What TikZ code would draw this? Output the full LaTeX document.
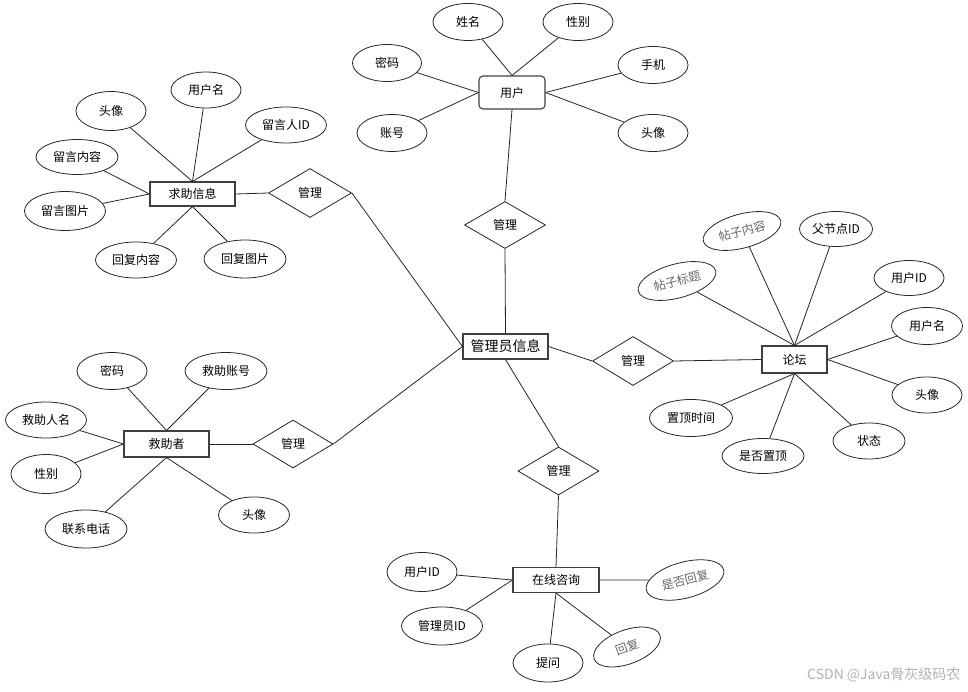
\documentclass[tikz,border=0pt]{standalone}
\usepackage{fontspec}
\newfontfamily\cjk{Noto Sans CJK SC}
\usetikzlibrary{shapes.geometric}
\tikzset{
  base/.style={font=\cjk\fontsize{12}{14}\selectfont, text=black},
  attr/.style={base, ellipse, draw=black!85, line width=0.8pt, minimum width=70pt, minimum height=37pt, inner sep=0pt},
  rattr/.style={attr, text=black!60},
  ent/.style={base, rectangle, draw=black!75, line width=1.1pt, minimum width=85pt, minimum height=25pt, inner sep=0pt},
  rel/.style={base, diamond, draw=black!85, line width=0.8pt, minimum width=81pt, minimum height=48pt, inner sep=0pt},
  conn/.style={draw=black!85, line width=0.8pt}
}
\begin{document}
\begin{tikzpicture}[x=1pt,y=-1pt]
\useasboundingbox (0,0) rectangle (968,692);
% ---------- 用户 ----------
\node[ent, rounded corners=4pt, minimum width=66pt, minimum height=33pt] (yh) at (512,92.5) {用户};
\node[attr] (yh1) at (468,22) {姓名};
\node[attr] (yh2) at (578,22) {性别};
\node[attr, minimum width=69pt] (yh3) at (387,63) {密码};
\node[attr] (yh4) at (392,133) {账号};
\node[attr] (yh5) at (653,65) {手机};
\node[attr] (yh6) at (653,133) {头像};
\draw[conn] (yh.north) -- (yh1);
\draw[conn] (yh.north) -- (yh2);
\draw[conn] (yh.west) -- (yh3);
\draw[conn] (yh.west) -- (yh4);
\draw[conn] (yh.east) -- (yh5);
\draw[conn] (yh.east) -- (yh6);
\node[rel, minimum height=47pt] (r1) at (505,225) {管理};
\draw[conn] (yh.south) -- (r1.north);
% ---------- 管理员信息 ----------
\node[ent, font=\cjk\fontsize{14}{16}\selectfont] (gl) at (505.5,346.5) {管理员信息};
\draw[conn] (r1.south) -- (gl.north);
% ---------- 论坛 ----------
\node[rel, minimum height=49pt] (r2) at (633,361) {管理};
\node[ent, minimum width=65pt, minimum height=27pt] (lt) at (794.5,359.5) {论坛};
\draw[conn] (gl.east) -- (r2.west);
\draw[conn] (r2.east) -- (lt.west);
\node[rattr, minimum width=80pt, minimum height=34pt, rotate=15] (lt1) at (677,281) {帖子标题};
\node[rattr, minimum width=80pt, minimum height=34pt, rotate=15] (lt2) at (742,231) {帖子内容};
\node[attr, minimum width=73pt, minimum height=35pt] (lt3) at (836,229) {父节点ID};
\node[attr, minimum height=35pt] (lt4) at (909,278) {用户ID};
\node[attr, minimum width=71pt] (lt5) at (927,326) {用户名};
\node[attr, minimum height=36pt] (lt6) at (927,395) {头像};
\node[attr, minimum width=72pt, minimum height=36pt] (lt7) at (869,441) {状态};
\node[attr, minimum width=82pt, minimum height=35pt] (lt8) at (763,456) {是否置顶};
\node[attr, minimum width=83pt] (lt9) at (691,418) {置顶时间};
\draw[conn] (lt.north) -- (lt1);
\draw[conn] (lt.north) -- (lt2);
\draw[conn] (lt.north) -- (lt3);
\draw[conn] (lt.north) -- (lt4);
\draw[conn] (lt.east) -- (lt5);
\draw[conn] (lt.east) -- (lt6);
\draw[conn] (lt.south) -- (lt7);
\draw[conn] (lt.south) -- (lt8);
\draw[conn] (lt.south) -- (lt9);
% ---------- 求助信息 ----------
\node[ent, minimum height=24pt] (qz) at (192.5,194) {求助信息};
\node[attr, minimum height=36pt] (qz1) at (206,90) {用户名};
\node[attr, minimum height=39pt] (qz2) at (111,111) {头像};
\node[attr, minimum width=81pt, minimum height=36pt] (qz3) at (286,125) {留言人ID};
\node[attr, minimum width=82pt, minimum height=35pt] (qz4) at (77,157) {留言内容};
\node[attr, minimum width=81pt, minimum height=39pt] (qz5) at (65,211) {留言图片};
\node[attr, minimum width=81pt, minimum height=36pt] (qz6) at (136,260) {回复内容};
\node[attr, minimum width=82pt, minimum height=38pt] (qz7) at (245,259) {回复图片};
\draw[conn] (qz.north) -- (qz1);
\draw[conn] (qz.north) -- (qz2);
\draw[conn] (qz.north) -- (qz3);
\draw[conn] (qz.west) -- (qz4);
\draw[conn] (qz.west) -- (qz5);
\draw[conn] (qz.south) -- (qz6);
\draw[conn] (qz.south) -- (qz7);
\node[rel, minimum width=83pt, minimum height=49pt] (r3) at (310,193) {管理};
\draw[conn] (qz.east) -- (r3.west);
\draw[conn] (r3.east) -- (gl.west);
% ---------- 救助者 ----------
\node[ent, minimum height=26pt] (jz) at (166.5,444) {救助者};
\node[attr] (jz1) at (112,371) {密码};
\node[attr, minimum width=82pt] (jz2) at (226,371) {救助账号};
\node[attr, minimum width=81pt, minimum height=36pt] (jz3) at (46,420) {救助人名};
\node[attr, minimum height=39pt] (jz4) at (46,474) {性别};
\node[attr, minimum width=82pt, minimum height=38pt] (jz5) at (86,529) {联系电话};
\node[attr, minimum width=71pt, minimum height=36pt] (jz6) at (254,515) {头像};
\draw[conn] (jz.north) -- (jz1);
\draw[conn] (jz.north) -- (jz2);
\draw[conn] (jz.west) -- (jz3);
\draw[conn] (jz.west) -- (jz4);
\draw[conn] (jz.south) -- (jz5);
\draw[conn] (jz.south) -- (jz6);
\node[rel, minimum width=80pt] (r4) at (293,444) {管理};
\draw[conn] (jz.east) -- (r4.west);
\draw[conn] (r4.east) -- (gl.west);
% ---------- 在线咨询 ----------
\node[rel] (r5) at (558.5,471) {管理};
\draw[conn] (gl.south) -- (r5.north);
\node[ent, minimum width=86pt] (zx) at (556,580) {在线咨询};
\draw[conn] (r5.south) -- (zx.north);
\node[attr, minimum height=39pt] (zx1) at (422,572) {用户ID};
\node[attr, minimum width=81pt, minimum height=38pt] (zx2) at (442,626) {管理员ID};
\node[attr, minimum height=38pt] (zx3) at (548,663) {提问};
\node[rattr, minimum width=70pt, minimum height=34pt, rotate=20] (zx4) at (627,647) {回复};
\node[rattr, minimum width=80pt, minimum height=36pt, rotate=15] (zx5) at (685,580) {是否回复};
\draw[conn] (zx.west) -- (zx1);
\draw[conn] (zx.west) -- (zx2);
\draw[conn] (zx.south) -- (zx3);
\draw[conn] (zx.south) -- (zx4);
\draw[conn] (zx.east) -- (zx5);
% ---------- watermark ----------
\node[base, text=black!30, font=\cjk\fontsize{14}{16}\selectfont, anchor=east] (wm) at (964,675) {CSDN @Java骨灰级码农};
\end{tikzpicture}
\end{document}
